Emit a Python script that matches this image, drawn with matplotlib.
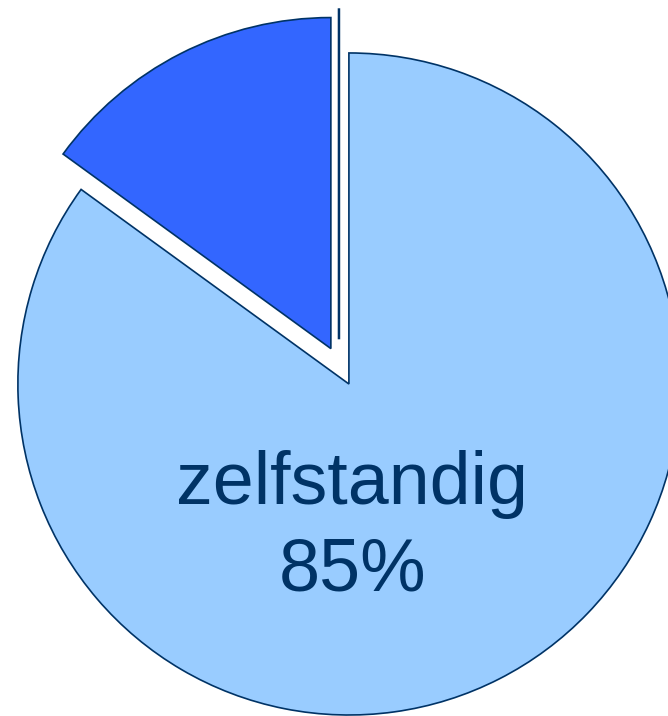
import matplotlib.pyplot as plt

# slice data (third slice is an empty category drawn as a line)
labels = ['zelfstandig', '', '']
values = [85, 15, 0]
colors = ['#99CCFF', '#3366FF', '#99CCFF']
explode = [0, 0.12, 0.13]


def main():
    fig = plt.figure(figsize=(6.68, 7.16), dpi=100)
    ax = fig.add_axes([0, 0, 1, 1])

    wedges, _ = ax.pie(values, colors=colors, explode=explode,
                       startangle=90, counterclock=False,
                       wedgeprops=dict(edgecolor='#003366', linewidth=1.2))

    # empty slice sits slightly left of the top
    cx, cy = wedges[2].center
    wedges[2].set_center((cx - 0.03, cy + 0.005))
    wedges[2].set_linewidth(1.8)

    ax.text(0.01, -0.435, f"{labels[0]}\n{values[0]}%", ha='center', va='center',
            fontsize=53, color='#003366', family=['Liberation Sans', 'DejaVu Sans'],
            linespacing=1.33)

    ax.set_xlim(-1.054, 0.964)
    ax.set_ylim(-1.003, 1.160)
    ax.set_aspect('auto')
    ax.axis('off')

    fig.savefig('out.png', dpi=100)


if __name__ == "__main__":
    main()
